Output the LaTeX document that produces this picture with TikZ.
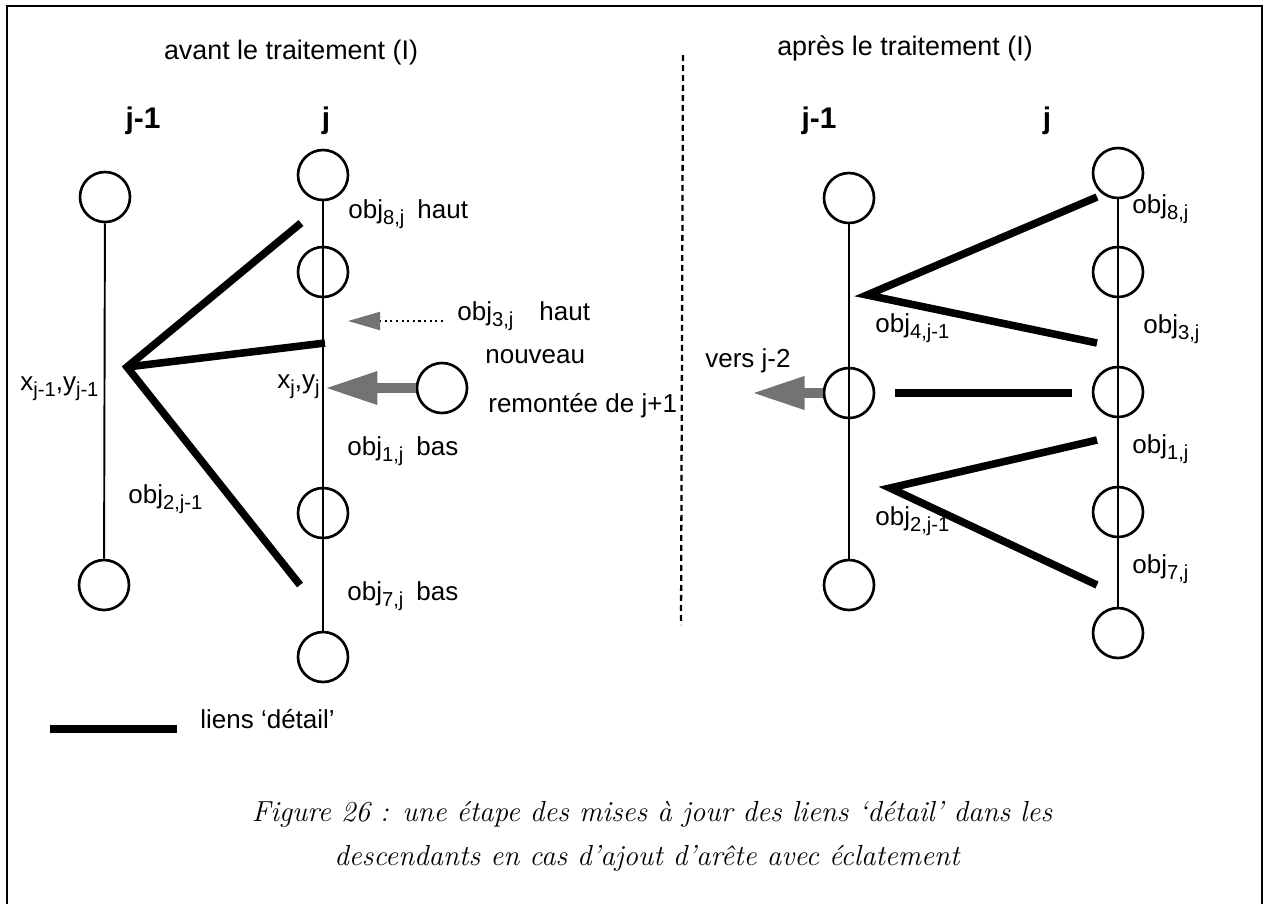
\documentclass[tikz,border=0pt]{standalone}
\usepackage{fontspec}
\setsansfont{Liberation Sans}
\usetikzlibrary{arrows.meta}
\newcommand\ind[1]{\raisebox{-0.5ex}{\fontsize{11.5}{13}\selectfont #1}}

\begin{document}
\begin{tikzpicture}[x=0.02cm,y=-0.02cm,
	obj/.style={circle,draw,line width=1.5pt,minimum size=1cm,inner sep=0pt},
	col/.style={line width=1.1pt},
	detail/.style={line width=4.3pt},
	lab/.style={anchor=base west,inner sep=0pt,font=\sffamily\fontsize{14.8}{17}\selectfont},
	titre/.style={anchor=base,inner sep=0pt,font=\sffamily\fontsize{15.3}{18}\selectfont},
	rang/.style={anchor=base,inner sep=0pt,font=\sffamily\bfseries\fontsize{17}{20}\selectfont},
	legende/.style={anchor=base,inner sep=0pt,font=\itshape\fontsize{16.5}{20}\selectfont},
	remonte/.style={line width=5.5pt,black!55,-{Triangle[length=1.05cm,width=0.62cm]}},
	cadre/.style={line width=1pt}]
	\useasboundingbox (0,0) rectangle (1266,904);
	\draw[cadre] (7,904) -- (7,6) -- (1262,6) -- (1262,904);

	\node[titre] (avant) at (291,59) {avant le traitement (I)};
	\node[rang] (gjm) at (143,128) {j-1};
	\node[rang] (gj) at (326,128) {j};
	\node[obj] (a1) at (105,197) {};
	\node[obj] (a2) at (104,585) {};
	\foreach \n/\y in {1/175,2/272,3/513,4/657}
		\node[obj] (b\n) at (323,\y) {};
	\draw[col] (a1) -- (a2);
	\draw[col] (b1) -- (b4);
	\coordinate (v) at (127,367);
	\coordinate (p8) at (301,223);
	\coordinate (p3) at (325,343);
	\coordinate (p7) at (300,585);
	\draw[detail] (p8) -- (v) -- (p7);
	\draw[detail] (v) -- (p3);
	\node[obj] (nv) at (442,388) {};
	\coordinate (xy) at (325,388);
	\draw[remonte] (nv) -- (xy);
	\coordinate (o3) at (443,321);
	\coordinate (o3b) at (348,321);
	\draw[line width=1.2pt,dotted,-{Triangle[length=0.64cm,width=0.36cm,color=black!55]}] (o3) -- (o3b);
	\node[lab] (xa) at (20,390) {x\ind{j-1},y\ind{j-1}};
	\node[lab,anchor=base east] (xb) at (320,388) {x\ind{j},y\ind{j}};
	\node[lab] (o2) at (128,503) {obj\ind{2,j-1}};
	\node[lab] (o8) at (348,218) {obj\ind{8,j}\enspace haut};
	\node[lab] (o3t) at (457,320) {obj\ind{3,j}\quad haut};
	\node[lab] (nou) at (485,363) {nouveau};
	\node[lab] (rem) at (488,412) {remontée de j+1};
	\node[lab] (o1) at (347,455) {obj\ind{1,j}\enspace bas};
	\node[lab] (o7) at (347,600) {obj\ind{7,j}\enspace bas};
	\coordinate (la) at (50,729);
	\coordinate (lb) at (177,729);
	\draw[detail] (la) -- (lb);
	\node[lab] (liens) at (200,728) {liens ‘détail’};

	\coordinate (d1) at (683,55);
	\coordinate (d2) at (681,625);
	\draw[line width=1.3pt,dash pattern=on 0.12cm off 0.08cm] (d1) -- (d2);

	\node[titre] (apres) at (905,55) {après le traitement (I)};
	\node[rang] (hjm) at (819,128) {j-1};
	\node[rang] (hj) at (1047,128) {j};
	\foreach \n/\y in {1/198,2/393,3/585}
		\node[obj] (c\n) at (849,\y) {};
	\foreach \n/\y in {1/173,2/272,3/392,4/512,5/633}
		\node[obj] (d\n) at (1118,\y) {};
	\draw[col] (c1) -- (c3);
	\draw[col] (d1) -- (d5);
	\coordinate (w4) at (867,295);
	\coordinate (q8) at (1097,197);
	\coordinate (q3) at (1097,343);
	\draw[detail] (q8) -- (w4) -- (q3);
	\coordinate (h1) at (895,393);
	\coordinate (h2) at (1072,393);
	\draw[detail] (h1) -- (h2);
	\coordinate (w2) at (890,488);
	\coordinate (q1) at (1097,440);
	\coordinate (q7) at (1097,585);
	\draw[detail] (q1) -- (w2) -- (q7);
	\coordinate (vj) at (752,393);
	\draw[remonte] (c2) -- (vj);
	\node[lab] (vers) at (705,367) {vers j-2};
	\node[lab] (r8) at (1132,213) {obj\ind{8,j}};
	\node[lab] (r4) at (875,332) {obj\ind{4,j-1}};
	\node[lab] (r3) at (1143,333) {obj\ind{3,j}};
	\node[lab] (r1) at (1132,453) {obj\ind{1,j}};
	\node[lab] (r2) at (875,525) {obj\ind{2,j-1}};
	\node[lab] (r7) at (1132,573) {obj\ind{7,j}};

	\node[legende] (cap1) at (652,821) {Figure 26 : une étape des mises à jour des liens ‘détail’ dans les};
	\node[legende] (cap2) at (647,865) {descendants en cas d’ajout d’arête avec éclatement};
\end{tikzpicture}
\end{document}
